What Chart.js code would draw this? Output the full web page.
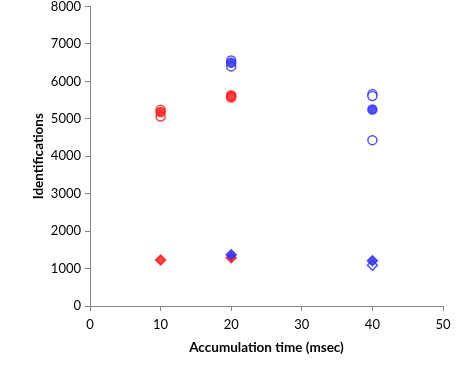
<!DOCTYPE html>
<html>
<head>
<meta charset="utf-8">
<script src="https://cdn.jsdelivr.net/npm/chart.js@4"></script>
<style>
  html, body { margin: 0; padding: 0; background: #fff; }
  #wrap { width: 474px; height: 369px; }
</style>
</head>
<body>
<div id="wrap"><canvas id="idChart" width="474" height="369"></canvas></div>
<script>
// data: [accumulation time, identifications]
const redFilledCircles = [[10, 5180], [20, 5600]];
const redOpenCircles = [[10, 5240], [10, 5060], [20, 5630], [20, 5570]];
const blueFilledCircles = [[20, 6500], [40, 5250]];
const blueOpenCircles = [[20, 6560], [20, 6400], [40, 5660], [40, 5610], [40, 4430]];
const redDiamonds = [[10, 1230], [20, 1290]];
const blueFilledDiamonds = [[20, 1370], [40, 1210]];
const blueOpenDiamonds = [[40, 1090]];

const xTicks = [0, 10, 20, 30, 40, 50];
const yTicks = [0, 1000, 2000, 3000, 4000, 5000, 6000, 7000, 8000];

const RED = 'rgba(255, 30, 30, 0.85)';
const BLUE = 'rgba(50, 50, 255, 0.85)';

function pts(arr) {
    return arr.map(p => ({ x: p[0], y: p[1] }));
}

function ds(label, arr, color, style, filled) {
    return {
        label: label,
        data: pts(arr),
        pointStyle: style,
        pointRadius: style === 'rectRot' ? 5 : 4.5,
        borderWidth: 1.5,
        borderColor: color,
        backgroundColor: filled ? color : '#fff',
        showLine: false
    };
}

const tickFont = { family: 'Lato', size: 13 };
const titleFont = { family: 'Lato', size: 13.5, weight: 'bold' };

// first dataset ends up on top, so filled marks go first
new Chart(document.getElementById('idChart').getContext('2d'), {
    type: 'scatter',
    data: {
        datasets: [
            ds('red filled', redFilledCircles, RED, 'circle', true),
            ds('blue filled', blueFilledCircles, BLUE, 'circle', true),
            ds('blue diamond', blueFilledDiamonds, BLUE, 'rectRot', true),
            ds('red diamond', redDiamonds, RED, 'rectRot', true),
            ds('red open', redOpenCircles, RED, 'circle', false),
            ds('blue open', blueOpenCircles, BLUE, 'circle', false),
            ds('blue open diamond', blueOpenDiamonds, BLUE, 'rectRot', false)
        ]
    },
    options: {
        responsive: false,
        animation: false,
        layout: { padding: { top: 6, right: 31, left: 27, bottom: 9 } },
        plugins: {
            legend: { display: false },
            tooltip: { enabled: false }
        },
        scales: {
            x: {
                type: 'linear',
                min: 0,
                max: 50,
                afterBuildTicks: s => { s.ticks = xTicks.map(v => ({ value: v })); },
                afterFit: s => { s.height = 54; },
                ticks: { color: '#000', font: tickFont, padding: 6, maxRotation: 0, callback: v => String(v) },
                grid: { drawOnChartArea: false, drawTicks: true, tickLength: 5, color: '#868686' },
                border: { color: '#868686' },
                title: { display: true, text: 'Accumulation time (msec)', color: '#000', font: titleFont, padding: { top: 4 } }
            },
            y: {
                min: 0,
                max: 8000,
                afterBuildTicks: s => { s.ticks = yTicks.map(v => ({ value: v })); },
                afterFit: s => { s.width = 63; s.paddingTop = 0; },
                ticks: { color: '#000', font: tickFont, padding: 4, callback: v => String(v) },
                grid: { drawOnChartArea: false, drawTicks: true, tickLength: 5, color: '#868686' },
                border: { color: '#868686' },
                title: { display: true, text: 'Identifications', color: '#000', font: titleFont, padding: { bottom: 4 } }
            }
        }
    }
});
</script>
</body>
</html>
